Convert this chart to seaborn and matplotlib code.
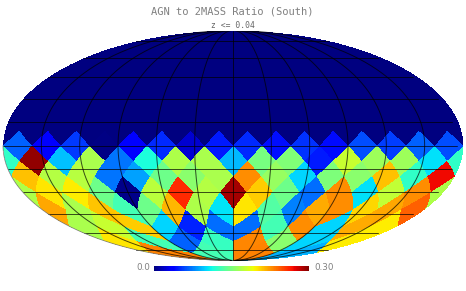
import numpy as np
import matplotlib
matplotlib.use("Agg")
import matplotlib.pyplot as plt
import seaborn as sns

# nside=4 healpix map, only the southern rings carry data (left to right on screen)
nside = 4
ring_08 = [.066, .033, .055, .002, .035, .05, .022, .045, .05, .042, .052, .04, .06, .056, .066, .06]
ring_09 = [.122, .295, .094, .167, .072, .115, .168, .167, .092, .148, .152, .045, .178, .162, .162, .104]
ring_10 = [.212, .17, .172, .072, .085, .145, .155, .167, .228, .16, .1, .15, .155, .212, .122, .27]
ring_11 = [.168, .2, .197, .145, .003, .173, .26, .17, .29, .208, .145, .07, .228, .104, .175, .228]
ring_12 = [.22, .167, .21, .13, .145, .215, .168, .105, .2, .135, .075, .218, .228, .205, .22, .242]
ring_13 = [.167, .178, .208, .1, .047, .07, .07, .13, .228, .1, .218, .197]
ring_14 = [.2, .13, .066, .125, .23, .155, .1, .198]
ring_15 = [.232, .13, .232, .09]
rings = {8: ring_08, 9: ring_09, 10: ring_10, 11: ring_11, 12: ring_12, 13: ring_13, 14: ring_14, 15: ring_15}

vmin, vmax = 0.0, 0.30
title = "AGN to 2MASS Ratio (South)"
subtitle = "z <= 0.04"
grey = "#808080"


def ang2ring(z, u):
    # ring number and index inside the ring, u runs 0..2pi from the left edge
    tt = np.mod(u, 2 * np.pi) / (np.pi / 2)
    ring = np.zeros(z.shape, dtype=int)
    idx = np.zeros(z.shape, dtype=int)

    eq = np.abs(z) <= 2 / 3
    t1 = nside * (0.5 + tt)
    t2 = nside * z * 0.75
    jp = np.floor(t1 - t2).astype(int)
    jm = np.floor(t1 + t2).astype(int)
    ir = nside + 1 + jp - jm
    kshift = 1 - (ir & 1)
    ip = (jp + jm - nside + kshift + 1) // 2
    ring[eq] = (ir + nside - 1)[eq]
    idx[eq] = np.mod(ip, 4 * nside)[eq]

    tp = tt - np.floor(tt)
    tmp = nside * np.sqrt(3 * (1 - np.abs(z)))
    jp = np.floor(tp * tmp).astype(int)
    jm = np.floor((1 - tp) * tmp).astype(int)
    ir = jp + jm + 1
    ip = np.floor(tt * ir).astype(int)
    pol = ~eq
    south = pol & (z < 0)
    north = pol & (z >= 0)
    ring[south] = (4 * nside - ir)[south]
    ring[north] = ir[north]
    idx[pol] = np.mod(ip, np.maximum(4 * ir, 1))[pol]
    return ring, idx


# mollweide plane -> sky -> pixel value
nx, ny = 920, 460
xs = (np.arange(nx) + 0.5) / nx * 2 - 1
ys = 1 - (np.arange(ny) + 0.5) / ny * 2
X, Y = np.meshgrid(xs, ys)
inside = X**2 + Y**2 < 1
theta = np.arcsin(np.clip(Y, -1, 1))
z = (2 * theta + np.sin(2 * theta)) / np.pi
lon = np.pi * X / np.cos(theta)
ring, idx = ang2ring(z, lon + np.pi)

grid = np.zeros(X.shape)
for r, vals in rings.items():
    sel = ring == r
    grid[sel] = np.array(vals)[idx[sel]]

sns.set_theme(style="white")
fig = plt.figure(figsize=(4.66, 2.91), dpi=100)
W, H = 466, 291
ax = fig.add_axes([3 / W, 1 - 260.5 / H, 460 / W, 230 / H])
cax = fig.add_axes([154 / W, 1 - 270.5 / H, 155 / W, 4.5 / H])
sns.heatmap(grid, ax=ax, cbar_ax=cax, mask=~inside, cmap="jet", vmin=vmin, vmax=vmax,
            xticklabels=False, yticklabels=False, rasterized=True,
            cbar_kws={"orientation": "horizontal", "ticks": []})
ax.collections[0].colorbar.outline.set_visible(False)
ax.set_xlim(0, nx)
ax.set_ylim(ny, 0)
ax.axis("off")


def moll(lon_deg, lat_deg):
    lat = np.radians(lat_deg)
    th = lat.copy()
    for _ in range(60):
        d = 2 + 2 * np.cos(2 * th)
        th = th - (2 * th + np.sin(2 * th) - np.pi * np.sin(lat)) / np.where(d < 1e-6, 1e-6, d)
    px = np.radians(lon_deg) / np.pi * np.cos(th)
    py = np.sin(th)
    return (px + 1) / 2 * nx, (1 - py) / 2 * ny


# graticule, parallels stop a little short of the right rim
line_col = "black"
for la in np.arange(-75, 76, 15):
    lo = np.linspace(-180, 175, 200)
    ax.plot(*moll(lo, np.full(lo.shape, float(la))), color=line_col, lw=0.7, alpha=0.7)
for lo in np.arange(-150, 151, 30):
    la = np.linspace(-89.9, 89.9, 200)
    ax.plot(*moll(np.full(la.shape, float(lo)), la), color=line_col, lw=0.7, alpha=0.7)
la = np.linspace(-89.9, 0, 100)
ax.plot(*moll(np.full(la.shape, -180.0), la), color="#777777", lw=0.5, clip_on=False)

fig.text(232 / W, 1 - 11 / H, title, ha="center", va="center", color=grey, family="DejaVu Sans Mono", fontsize=7.5)
fig.text(233 / W, 1 - 25 / H, subtitle, ha="center", va="center", color="#666666", family="DejaVu Sans Mono", fontsize=5.8)
fig.text(150 / W, 1 - 268 / H, "0.0", ha="right", va="center", color=grey, family="DejaVu Sans", fontsize=6.3)
fig.text(314 / W, 1 - 268 / H, "0.30", ha="left", va="center", color=grey, family="DejaVu Sans", fontsize=6.3)

fig.savefig("out.png", dpi=100)
